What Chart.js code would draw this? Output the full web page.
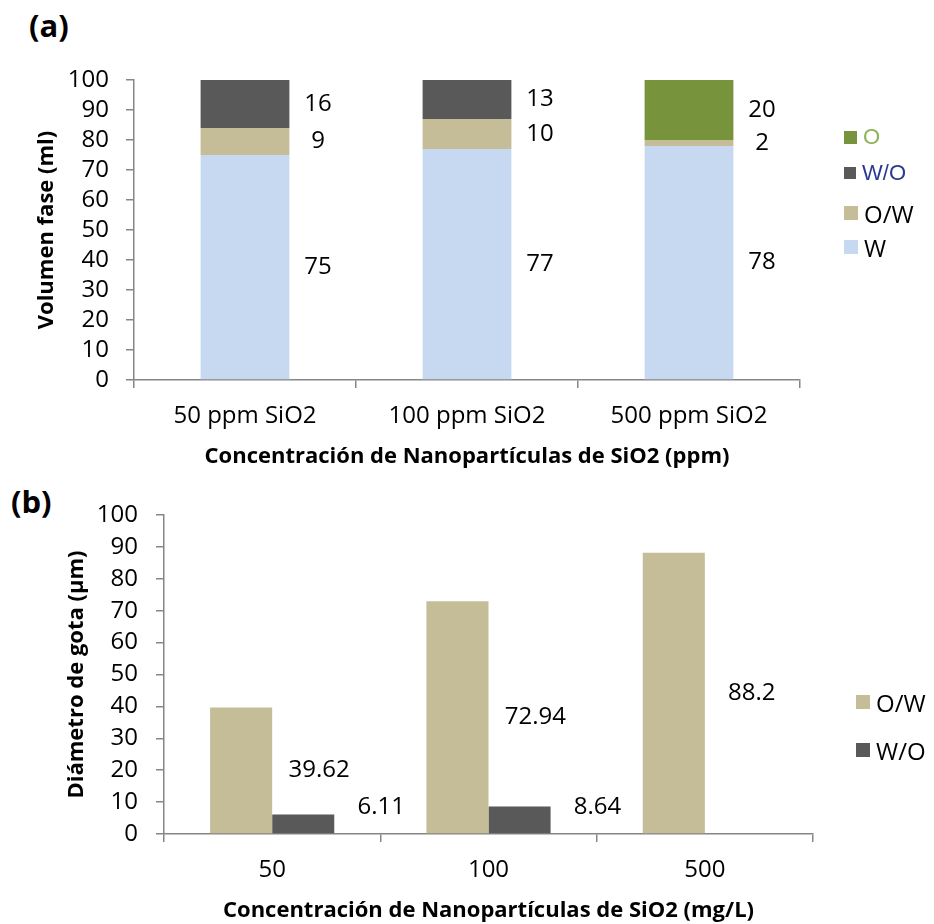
<!DOCTYPE html>
<html>
<head>
<meta charset="utf-8">
<script src="https://cdn.jsdelivr.net/npm/chart.js@4.4.0/dist/chart.umd.min.js"></script>
<style>
  body { margin: 0; background: #fff; font-family: "Open Sans", sans-serif; }
  .lienzo { position: relative; width: 934px; height: 924px; }
  canvas { position: absolute; left: 0; }
  #chartA { top: 0; }
  #chartB { top: 470px; }
  .tag { position: absolute; font-weight: bold; font-size: 31px; }
  .leyenda { position: absolute; }
  .leyenda .item { position: absolute; left: 0; display: flex; align-items: center; white-space: nowrap; }
  .leyenda .cuadro { display: inline-block; margin-right: 6px; }
</style>
</head>
<body>
<div class="lienzo">
  <div class="tag" style="left:29px; top:4px;">(a)</div>
  <div class="tag" style="left:11px; top:480px;">(b)</div>
  <canvas id="chartA" width="934" height="470"></canvas>
  <canvas id="chartB" width="934" height="454"></canvas>
  <div class="leyenda" id="leyendaA" style="left:844px; top:0;"></div>
  <div class="leyenda" id="leyendaB" style="left:856px; top:0;"></div>
</div>
<script>
// volumen de cada fase (ml)
const muestras = ['50 ppm SiO2', '100 ppm SiO2', '500 ppm SiO2'];
const volW = [75, 77, 78];
const volOW = [9, 10, 2];
const volWO = [16, 13, 0];
const volO = [0, 0, 20];

// diametro de gota (um)
const concentraciones = ['50', '100', '500'];
const gotaOW = [39.62, 72.94, 88.2];
const gotaWO = [6.11, 8.64, null];

const ejeMin = 0, ejeMax = 100, ejePaso = 10;

const cW = '#c6d9f1', cOW = '#c4bd97', cWO = '#595959', cO = '#77933c';
const gris = '#868686';
const fuente = '"Open Sans", sans-serif';

// numeros junto a cada segmento
const etiquetasValor = {
  id: 'etiquetasValor',
  afterDatasetsDraw(chart, args, opts) {
    const ctx = chart.ctx;
    ctx.save();
    ctx.font = '24px ' + fuente;
    ctx.fillStyle = '#000';
    ctx.textAlign = 'center';
    ctx.textBaseline = 'middle';
    chart.data.datasets.forEach((ds, i) => {
      chart.getDatasetMeta(i).data.forEach((bar, j) => {
        const v = ds.data[j];
        if (!v) return;
        const medio = (bar.y + bar.base) / 2;
        const y = opts.minAlto ? Math.min(medio, bar.base - opts.minAlto) : medio;
        ctx.fillText(String(v), bar.x + opts.dx, y);
      });
    });
    ctx.restore();
  }
};

function ejes(anchoY, tituloY, padTitulo, titX) {
  return {
    x: {
      stacked: true,
      afterFit: s => { s.height = 90; },
      border: { color: gris, width: 1.5 },
      grid: { drawOnChartArea: false, color: gris, lineWidth: 1.5, tickLength: 8, offset: true },
      ticks: { color: '#000', font: { family: fuente, size: 24 }, padding: 14 },
      title: { display: true, text: titX, color: '#000', font: { family: fuente, size: 22, weight: 'bold' }, padding: { top: 0, bottom: 0 } }
    },
    y: {
      min: ejeMin, max: ejeMax,
      afterFit: s => { s.width = anchoY; },
      border: { color: gris, width: 1.5 },
      grid: { drawOnChartArea: false, color: gris, lineWidth: 1.5, tickLength: 8 },
      ticks: { stepSize: ejePaso, autoSkip: false, color: '#000', font: { family: fuente, size: 24 }, padding: 17 },
      title: { display: true, text: tituloY, color: '#000', font: { family: fuente, size: 22, weight: 'bold' }, padding: { top: padTitulo, bottom: 0 } }
    }
  };
}

const opcionesA = ejes(134, 'Volumen fase (ml)', 34, 'Concentración de Nanopartículas de SiO2 (ppm)');
opcionesA.y.stacked = true;

const chartA = new Chart(document.getElementById('chartA'), {
  type: 'bar',
  data: {
    labels: muestras,
    datasets: [
      { label: 'W', data: volW, backgroundColor: cW },
      { label: 'O/W', data: volOW, backgroundColor: cOW },
      { label: 'W/O', data: volWO, backgroundColor: cWO },
      { label: 'O', data: volO, backgroundColor: cO }
    ]
  },
  options: {
    responsive: false,
    animation: false,
    categoryPercentage: 1,
    barPercentage: 0.4,
    layout: { padding: { top: 80, right: 134, bottom: 0, left: 0 } },
    plugins: { legend: { display: false }, tooltip: { enabled: false }, etiquetasValor: { dx: 73 } },
    scales: opcionesA
  },
  plugins: [etiquetasValor]
});

const opcionesB = ejes(164, 'Diámetro de gota (µm)', 64, 'Concentración de Nanopartículas de SiO2 (mg/L)');
opcionesB.x.stacked = false;
opcionesB.y.ticks.padding = 18;

const chartB = new Chart(document.getElementById('chartB'), {
  type: 'bar',
  data: {
    labels: concentraciones,
    datasets: [
      { label: 'O/W', data: gotaOW, backgroundColor: cOW },
      { label: 'W/O', data: gotaWO, backgroundColor: cWO }
    ]
  },
  options: {
    responsive: false,
    animation: false,
    categoryPercentage: 0.574,
    barPercentage: 1,
    layout: { padding: { top: 45, right: 121, bottom: 0, left: 0 } },
    plugins: { legend: { display: false }, tooltip: { enabled: false }, etiquetasValor: { dx: 78, minAlto: 26 } },
    scales: opcionesB
  },
  plugins: [etiquetasValor]
});

// leyendas a la derecha
const estiloTexto = {
  'O': { color: '#8db35a', font: '22px "Liberation Sans", sans-serif', lado: 13 },
  'W/O': { color: '#2b3990', font: '22px "Liberation Sans", sans-serif', lado: 12 }
};
function leyenda(chart, id, centros, invertir, especial) {
  const cont = document.getElementById(id);
  let ds = chart.data.datasets.slice();
  if (invertir) ds.reverse();
  ds.forEach((d, i) => {
    const est = (especial && estiloTexto[d.label]) || { color: '#000', font: '24px ' + fuente, lado: 14 };
    const item = document.createElement('div');
    item.className = 'item';
    item.style.top = (centros[i] - 16) + 'px';
    item.style.height = '32px';
    const sq = document.createElement('span');
    sq.className = 'cuadro';
    sq.style.width = est.lado + 'px';
    sq.style.height = est.lado + 'px';
    sq.style.background = d.backgroundColor;
    const tx = document.createElement('span');
    tx.textContent = d.label;
    tx.style.color = est.color;
    tx.style.font = est.font;
    item.appendChild(sq);
    item.appendChild(tx);
    cont.appendChild(item);
  });
}
leyenda(chartA, 'leyendaA', [137, 173, 213, 247], true, true);
leyenda(chartB, 'leyendaB', [702, 750], false, false);
</script>
</body>
</html>
